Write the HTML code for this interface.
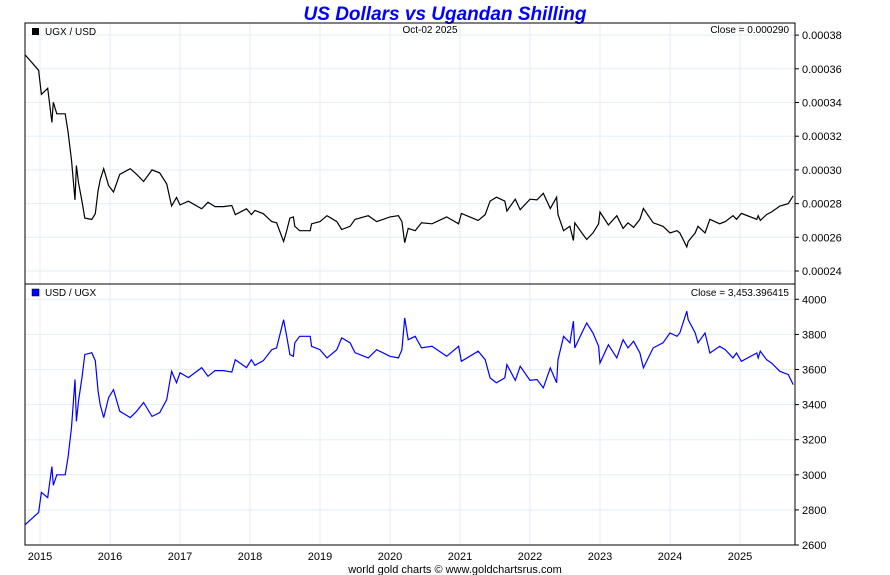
<!DOCTYPE html>
<html><head><meta charset="utf-8"><style>
body{margin:0;background:#fff;}
svg{display:block;font-family:"Liberation Sans",sans-serif;}
</style></head><body>
<svg id="c" width="890" height="575">
<text x="445" y="20" text-anchor="middle" font-size="19" font-weight="bold" font-style="italic" fill="#0000ff">US Dollars vs Ugandan Shilling</text>
<g id="grid"></g>
<rect x="25" y="23" width="770" height="261" fill="none" stroke="#000"/>
<rect x="25" y="284" width="770" height="261" fill="none" stroke="#000"/>
<rect x="32" y="28" width="7" height="7" fill="#000"/>
<text x="45" y="35" font-size="10">UGX / USD</text>
<text x="430" y="33" text-anchor="middle" font-size="10">Oct-02  2025</text>
<text x="789" y="33" text-anchor="end" font-size="10">Close = 0.000290</text>
<rect x="32" y="289" width="7" height="7" fill="#0000ff" stroke="#000" stroke-width="0.5"/>
<text x="45" y="296" font-size="10">USD / UGX</text>
<text x="789" y="296" text-anchor="end" font-size="10">Close = 3,453.396415</text>
<g id="axes"></g>
<g id="series"></g>
<text x="455" y="573" text-anchor="middle" font-size="11">world gold charts © www.goldchartsrus.com</text>
</svg>
<script>
const years=[2014.79,2014.98,2015.02,2015.11,2015.17,2015.19,2015.24,2015.36,2015.40,2015.45,2015.50,2015.52,2015.55,2015.60,2015.64,2015.74,2015.79,2015.83,2015.86,2015.91,2015.98,2016.05,2016.14,2016.29,2016.38,2016.48,2016.60,2016.71,2016.81,2016.88,2016.95,2017.00,2017.12,2017.31,2017.40,2017.50,2017.62,2017.74,2017.79,2017.95,2018.02,2018.07,2018.19,2018.31,2018.38,2018.48,2018.52,2018.57,2018.62,2018.64,2018.71,2018.86,2018.88,2019.00,2019.10,2019.24,2019.31,2019.43,2019.50,2019.69,2019.81,2020.00,2020.12,2020.17,2020.21,2020.26,2020.36,2020.45,2020.60,2020.81,2020.98,2021.02,2021.26,2021.36,2021.43,2021.52,2021.64,2021.67,2021.79,2021.86,2022.00,2022.10,2022.19,2022.29,2022.38,2022.40,2022.48,2022.57,2022.62,2022.64,2022.74,2022.81,2022.90,2022.98,2023.00,2023.12,2023.24,2023.33,2023.40,2023.48,2023.57,2023.62,2023.76,2023.90,2024.00,2024.10,2024.14,2024.24,2024.26,2024.36,2024.40,2024.50,2024.57,2024.71,2024.79,2024.90,2024.95,2025.02,2025.24,2025.26,2025.29,2025.38,2025.45,2025.57,2025.69,2025.76];
const usdUgx=[2716,2785,2900,2870,3047,2940,3000,3000,3098,3270,3543,3305,3420,3555,3685,3696,3650,3476,3400,3326,3440,3485,3362,3326,3362,3412,3333,3354,3428,3590,3525,3582,3554,3611,3561,3594,3594,3585,3656,3611,3656,3624,3650,3713,3723,3884,3799,3685,3675,3752,3789,3789,3732,3713,3666,3713,3780,3752,3696,3666,3713,3675,3666,3713,3894,3770,3789,3723,3732,3675,3732,3647,3704,3656,3552,3524,3552,3628,3538,3618,3538,3543,3495,3609,3524,3656,3789,3752,3875,3723,3808,3865,3808,3732,3637,3741,3666,3770,3723,3761,3694,3609,3723,3752,3808,3789,3808,3932,3884,3808,3752,3808,3694,3732,3713,3666,3694,3647,3694,3666,3704,3656,3637,3590,3571,3514,3457];
const ugxUsd=[3.682e-4,3.591e-4,3.448e-4,3.484e-4,3.282e-4,3.401e-4,3.333e-4,3.333e-4,3.228e-4,3.058e-4,2.822e-4,3.026e-4,2.924e-4,2.813e-4,2.714e-4,2.706e-4,2.740e-4,2.877e-4,2.941e-4,3.007e-4,2.907e-4,2.869e-4,2.974e-4,3.007e-4,2.974e-4,2.931e-4,3.000e-4,2.982e-4,2.917e-4,2.786e-4,2.837e-4,2.792e-4,2.814e-4,2.769e-4,2.808e-4,2.782e-4,2.782e-4,2.789e-4,2.735e-4,2.769e-4,2.735e-4,2.759e-4,2.740e-4,2.693e-4,2.686e-4,2.575e-4,2.632e-4,2.714e-4,2.721e-4,2.665e-4,2.639e-4,2.639e-4,2.680e-4,2.693e-4,2.728e-4,2.693e-4,2.646e-4,2.665e-4,2.706e-4,2.728e-4,2.693e-4,2.721e-4,2.728e-4,2.693e-4,2.568e-4,2.653e-4,2.639e-4,2.686e-4,2.680e-4,2.721e-4,2.680e-4,2.742e-4,2.700e-4,2.735e-4,2.815e-4,2.838e-4,2.815e-4,2.756e-4,2.826e-4,2.764e-4,2.826e-4,2.822e-4,2.861e-4,2.771e-4,2.838e-4,2.735e-4,2.639e-4,2.665e-4,2.581e-4,2.686e-4,2.626e-4,2.587e-4,2.626e-4,2.680e-4,2.750e-4,2.673e-4,2.728e-4,2.653e-4,2.686e-4,2.659e-4,2.707e-4,2.771e-4,2.686e-4,2.665e-4,2.626e-4,2.639e-4,2.626e-4,2.543e-4,2.575e-4,2.626e-4,2.665e-4,2.626e-4,2.707e-4,2.680e-4,2.693e-4,2.728e-4,2.707e-4,2.742e-4,2.707e-4,2.728e-4,2.700e-4,2.735e-4,2.750e-4,2.786e-4,2.800e-4,2.846e-4,2.893e-4];
const xTicks=[2015,2016,2017,2018,2019,2020,2021,2022,2023,2024,2025];
const topTicks=[0.00024,0.00026,0.00028,0.00030,0.00032,0.00034,0.00036,0.00038];
const botTicks=[2600,2800,3000,3200,3400,3600,3800,4000];

const NS='http://www.w3.org/2000/svg';
const X=y=>40+(y-2015)*70;
const YT=v=>271-(v-0.00024)/0.00002*33.7;
const YB=v=>545-(v-2600)/200*35.1;
function mk(tag,attrs,parent){const e=document.createElementNS(NS,tag);for(const k in attrs)e.setAttribute(k,attrs[k]);parent.appendChild(e);return e;}
const grid=document.getElementById('grid'),axes=document.getElementById('axes'),ser=document.getElementById('series');
xTicks.forEach(t=>{
  const x=X(t);
  const l1=mk('line',{x1:x,x2:x,y1:23,y2:284,stroke:'#e3eef8'},grid);
  
  
  const l2=mk('line',{x1:x,x2:x,y1:284,y2:545,stroke:'#e3eef8'},grid);
  
  
  const tx=mk('text',{x:x,y:560,'text-anchor':'middle','font-size':'11'},axes);
  tx.textContent=t;
  
  
});
topTicks.forEach(t=>{
  const y=YT(t);
  const g=mk('line',{x1:25,x2:795,y1:y,y2:y,stroke:'#e3eef8'},grid);
  
  
  const tk=mk('line',{x1:795,x2:799,y1:y,y2:y,stroke:'#000'},axes);
  
  
  const tx=mk('text',{x:802,y:y+4,'font-size':'11'},axes);
  tx.textContent=t.toFixed(5);
  
  
});
botTicks.forEach(t=>{
  const y=YB(t);
  const g=mk('line',{x1:25,x2:795,y1:y,y2:y,stroke:'#e3eef8'},grid);
  
  
  const tk=mk('line',{x1:795,x2:799,y1:y,y2:y,stroke:'#000'},axes);
  
  
  const tx=mk('text',{x:802,y:y+4,'font-size':'11'},axes);
  tx.textContent=t;
  
  
});
const pTop=mk('polyline',{points:years.map((y,i)=>X(y).toFixed(1)+','+YT(ugxUsd[i]).toFixed(1)).join(' '),fill:'none',stroke:'#000','stroke-width':'1.2'},ser);


const pBot=mk('polyline',{points:years.map((y,i)=>X(y).toFixed(1)+','+YB(usdUgx[i]).toFixed(1)).join(' '),fill:'none',stroke:'#0000ff','stroke-width':'1.2'},ser);


</script>
</body></html>
